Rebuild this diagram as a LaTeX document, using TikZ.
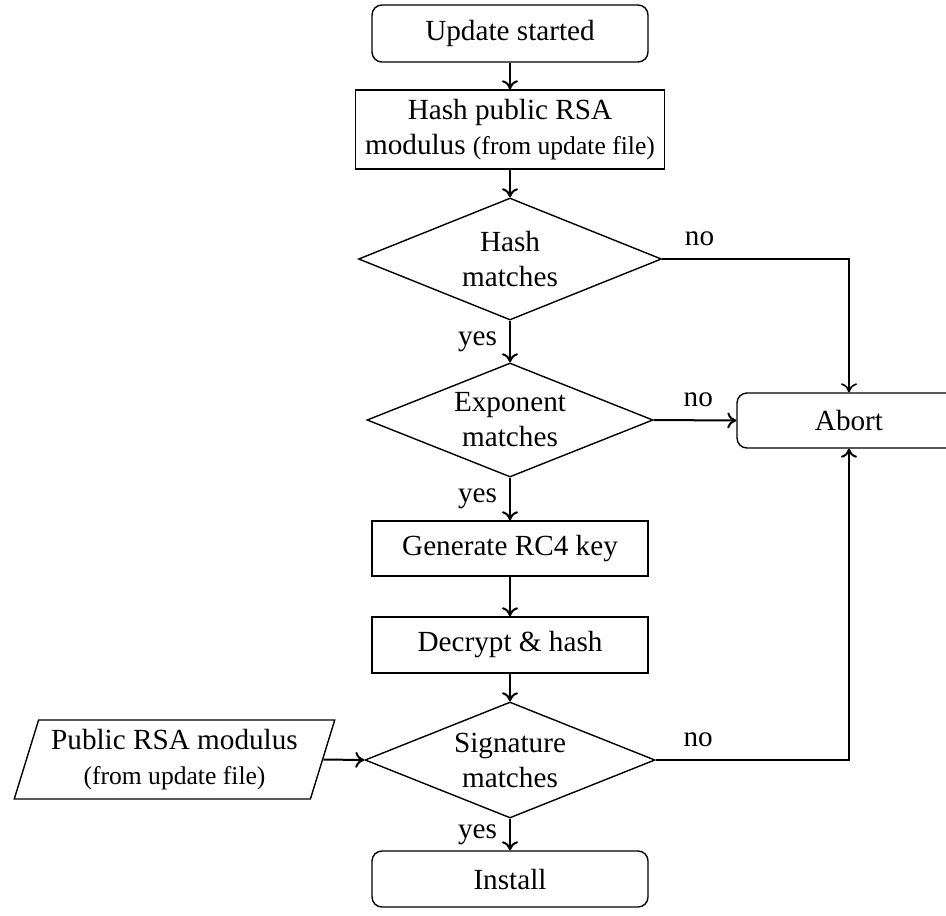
\documentclass[tikz,border=0pt]{standalone}
\usepackage{fontspec}
\setmainfont{Liberation Serif}
\usetikzlibrary{shapes.geometric,arrows.meta}
\newcommand\smallnote[1]{{\fontsize{12.8}{15}\selectfont #1}}
\begin{document}
\begin{tikzpicture}[x=0.5pt,y=-0.5pt,
  every node/.style={font=\fontsize{14.6}{17.5}\selectfont, align=center, inner sep=0pt},
  shapeline/.style={draw, line width=0.7pt},
  startstop/.style={shapeline, rectangle, rounded corners=5pt, minimum width=138pt, minimum height=28pt},
  process/.style={shapeline, rectangle, minimum width=138pt, minimum height=28pt},
  decision/.style={shapeline, diamond, aspect=2.5},
  iobox/.style={shapeline, trapezium, trapezium left angle=70, trapezium right angle=110,
    trapezium stretches, minimum width=160.5pt, minimum height=39.5pt},
  flow/.style={line width=1pt, -{Computer Modern Rightarrow[length=4.5pt,width=8pt]}},
  answer/.style={inner sep=0pt}
]
\useasboundingbox (0,0) rectangle (946,915);
\clip (0,0) rectangle (946,915);

% main column
\node[startstop, minimum height=28.5pt] (start) at (510,33.5) {Update started};
\node[process, minimum width=154.5pt, minimum height=39.5pt] (hashmod) at (510,129.5)
  {Hash public RSA\\modulus \smallnote{(from update file)}};
\node[decision, minimum width=151.5pt, minimum height=61pt] (hashok) at (510,259) {Hash\\matches};
\node[decision, minimum width=143pt, minimum height=57pt] (expok) at (510,420) {Exponent\\matches};
\node[process, minimum height=27.5pt] (rc4) at (510,548.5) {Generate RC4 key};
\node[process] (dec) at (510,645) {Decrypt \& hash};
\node[decision, minimum width=145pt, minimum height=58pt] (sigok) at (510,760) {Signature\\matches};
\node[startstop] (install) at (510,879) {Install};

% side nodes
\node[startstop, minimum width=112pt, minimum height=27.5pt] (abort) at (849,420.5) {Abort};
\node[iobox] (modfile) at (174.5,759.5) {Public RSA modulus\\\smallnote{(from update file)}};

% connectors
\draw[flow] (start) -- (hashmod);
\draw[flow] (hashmod) -- (hashok);
\draw[flow] (hashok) -- node[answer, left=6pt] {yes} (expok);
\draw[flow, line width=0.8pt] (hashok.east) -| node[answer, pos=0.1, above=6pt] {no} (abort.north);
\draw[flow] (expok.east) -- node[answer, pos=0.54, above=6pt] {no} (abort.west);
\draw[flow] (expok) -- node[answer, left=6pt] {yes} (rc4);
\draw[flow] (rc4) -- (dec);
\draw[flow] (dec) -- (sigok);
\draw[flow] (sigok.east) -| node[answer, pos=0.11, above=6pt] {no} (abort.south);
\draw[flow] (sigok) -- node[answer, left=6pt] {yes} (install);
\draw[flow] (modfile.east) -- (sigok.west);
\end{tikzpicture}
\end{document}
